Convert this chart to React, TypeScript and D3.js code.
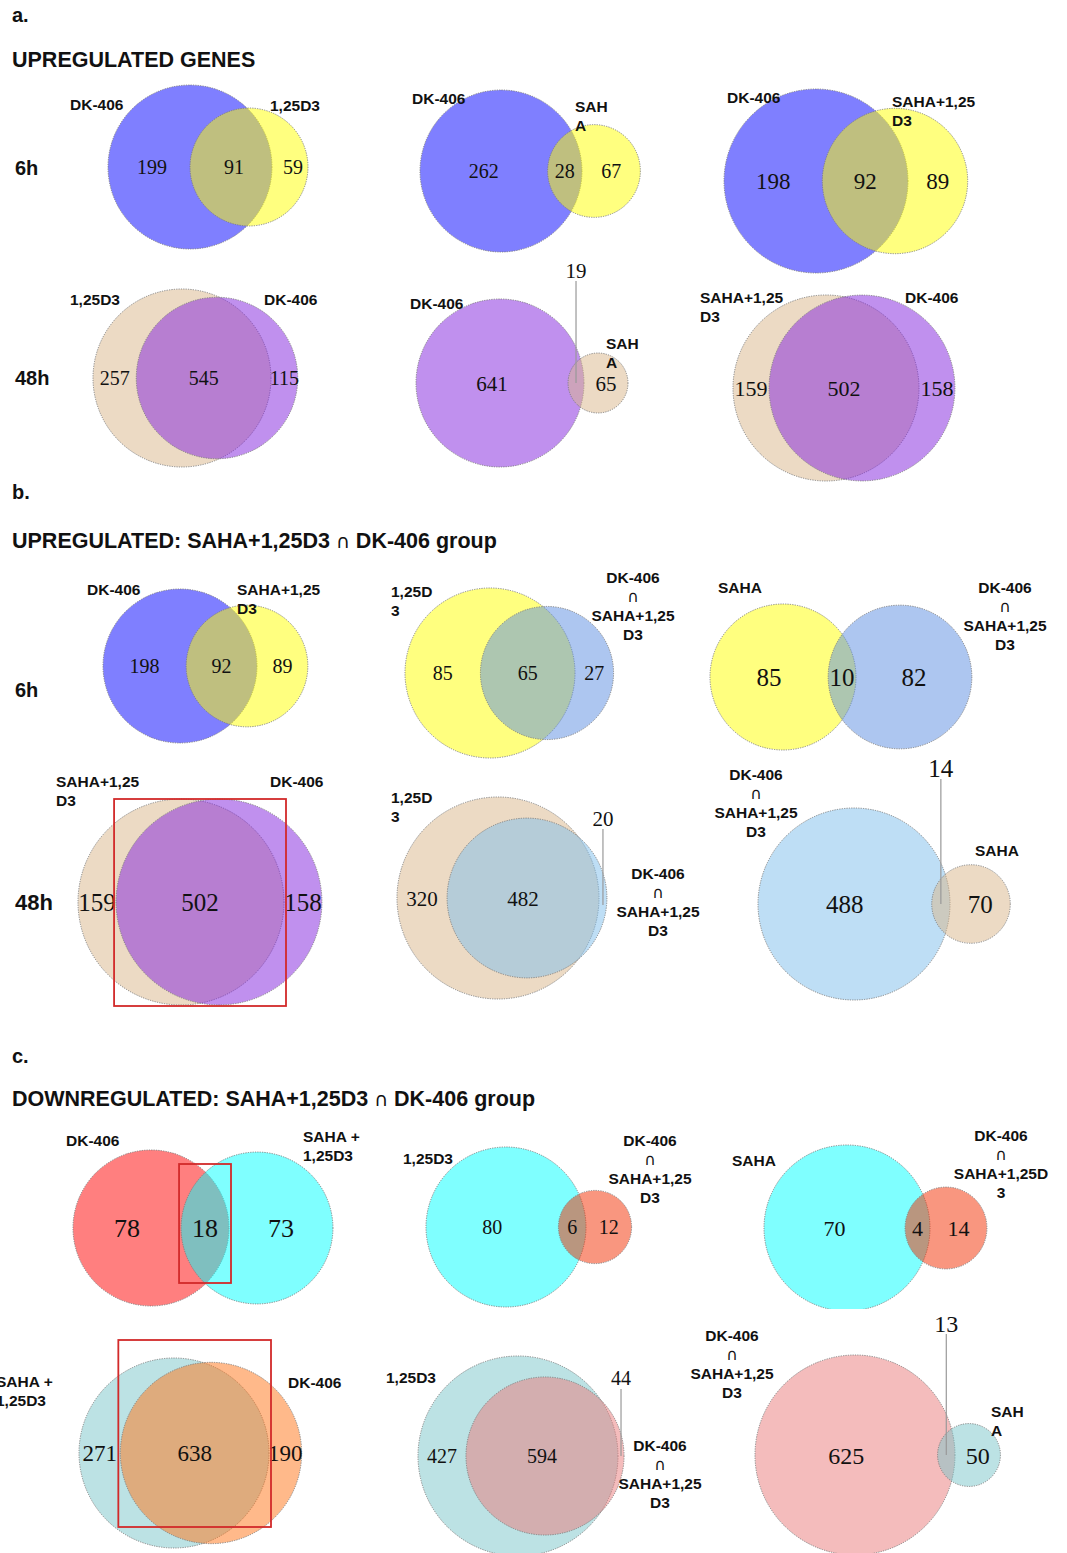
import React from "react";
import * as d3 from "d3";

// ---------- data ----------
const sectionLetters = ["a.", "b.", "c."];
const sectionTitles = [
  "UPREGULATED GENES",
  "UPREGULATED: SAHA+1,25D3 \u2229 DK-406 group",
  "DOWNREGULATED: SAHA+1,25D3 \u2229 DK-406 group",
];
const rowLabels = ["6h", "48h"];

// region counts [only A, A∩B, only B]
const upGenesCounts = [
  [199, 91, 59], [262, 28, 67], [198, 92, 89],
  [257, 545, 115], [641, 19, 65], [159, 502, 158],
];
const upGroupCounts = [
  [198, 92, 89], [85, 65, 27], [85, 10, 82],
  [159, 502, 158], [320, 482, 20], [488, 14, 70],
];
const downGroupCounts = [
  [78, 18, 73], [80, 6, 12], [70, 4, 14],
  [271, 638, 190], [427, 594, 44], [625, 13, 50],
];

const upGenesSetLabels = [
  ["DK-406", "1,25D3"], ["DK-406", "SAH\nA"], ["DK-406", "SAHA+1,25\nD3"],
  ["1,25D3", "DK-406"], ["DK-406", "SAH\nA"], ["SAHA+1,25\nD3", "DK-406"],
];
const upGroupSetLabels = [
  ["DK-406", "SAHA+1,25\nD3"], ["1,25D\n3", "DK-406\n\u2229\nSAHA+1,25\nD3"], ["SAHA", "DK-406\n\u2229\nSAHA+1,25\nD3"],
  ["SAHA+1,25\nD3", "DK-406"], ["1,25D\n3", "DK-406\n\u2229\nSAHA+1,25\nD3"], ["DK-406\n\u2229\nSAHA+1,25\nD3", "SAHA"],
];
const downGroupSetLabels = [
  ["DK-406", "SAHA +\n1,25D3"], ["1,25D3", "DK-406\n\u2229\nSAHA+1,25\nD3"], ["SAHA", "DK-406\n\u2229\nSAHA+1,25D\n3"],
  ["SAHA +\n1,25D3", "DK-406"], ["1,25D3", "DK-406\n\u2229\nSAHA+1,25\nD3"], ["DK-406\n\u2229\nSAHA+1,25\nD3", "SAH\nA"],
];

// ---------- styles ----------
const BLUE = "rgb(0,0,255)";
const YELLOW = "rgb(255,255,0)";
const PURPLE = "rgb(129,33,221)";
const TAN = "rgb(217,181,137)";
const LBLUE = "rgb(91,141,225)";
const SKY = "rgb(125,189,235)";
const RED = "rgb(255,0,0)";
const CYAN = "rgb(0,255,255)";
const ORANGE = "rgb(243,45,0)";
const TEAL = "rgb(121,197,201)";
const PEACH = "rgb(255,115,21)";
const PINK = "rgb(233,121,121)";

const panelColors = [
  [BLUE, YELLOW], [BLUE, YELLOW], [BLUE, YELLOW],
  [TAN, PURPLE], [PURPLE, TAN], [TAN, PURPLE],
  [BLUE, YELLOW], [YELLOW, LBLUE], [YELLOW, LBLUE],
  [TAN, PURPLE], [TAN, SKY], [SKY, TAN],
  [RED, CYAN], [CYAN, ORANGE], [CYAN, ORANGE],
  [TEAL, PEACH], [TEAL, PINK], [PINK, TEAL],
];

// ---------- layout ----------
type Lab = { x: number; y: number; mid?: boolean };
type Layout = {
  cxA: number; cxB: number; cy: number; r: number; fs: number;
  la: Lab; lb: Lab; nudge?: number;
  leader?: { region: number; y: number; lineEnd?: number };
  rect?: { y0: number; y1: number };
  clipBottom?: number;
};

const panelLayout: Layout[] = [
  { cxA: 190, cxB: 249, cy: 167, r: 82, fs: 20, nudge: 3, la: { x: 70, y: 104 }, lb: { x: 270, y: 105 } },
  { cxA: 501, cxB: 594, cy: 171, r: 81, fs: 20, la: { x: 412, y: 98 }, lb: { x: 575, y: 106 } },
  { cxA: 816, cxB: 895, cy: 181, r: 92, fs: 23, la: { x: 727, y: 97 }, lb: { x: 892, y: 101 } },
  { cxA: 182, cxB: 217, cy: 378, r: 89, fs: 20, la: { x: 70, y: 299 }, lb: { x: 264, y: 299 } },
  { cxA: 500, cxB: 598, cy: 383, r: 84, fs: 21, la: { x: 410, y: 303 }, lb: { x: 606, y: 343 }, leader: { region: 1, y: 270 } },
  { cxA: 826, cxB: 862, cy: 388, r: 93, fs: 22, la: { x: 700, y: 297 }, lb: { x: 905, y: 297 } },
  { cxA: 180, cxB: 247, cy: 666, r: 77, fs: 20, la: { x: 87, y: 589 }, lb: { x: 237, y: 589 } },
  { cxA: 490, cxB: 547, cy: 673, r: 85, fs: 20, la: { x: 391, y: 591 }, lb: { x: 633, y: 577, mid: true } },
  { cxA: 783, cxB: 900, cy: 677, r: 73, fs: 25, la: { x: 718, y: 587 }, lb: { x: 1005, y: 587, mid: true } },
  { cxA: 181, cxB: 219, cy: 902, r: 103, fs: 25, la: { x: 56, y: 781 }, lb: { x: 270, y: 781 }, rect: { y0: 799, y1: 1006 } },
  { cxA: 498, cxB: 527, cy: 898, r: 101, fs: 21, la: { x: 391, y: 797 }, lb: { x: 658, y: 873, mid: true }, leader: { region: 2, y: 818, lineEnd: 905 } },
  { cxA: 854, cxB: 971, cy: 904, r: 96, fs: 25, la: { x: 756, y: 774, mid: true }, lb: { x: 975, y: 850 }, leader: { region: 1, y: 768 } },
  { cxA: 151, cxB: 257, cy: 1228, r: 78, fs: 26, la: { x: 66, y: 1140 }, lb: { x: 303, y: 1136 }, rect: { y0: 1164, y1: 1283 } },
  { cxA: 506, cxB: 595, cy: 1227, r: 80, fs: 20, la: { x: 403, y: 1158 }, lb: { x: 650, y: 1140, mid: true } },
  { cxA: 847, cxB: 946, cy: 1228, r: 83, fs: 22, la: { x: 732, y: 1160 }, lb: { x: 1001, y: 1135, mid: true }, clipBottom: 1309 },
  { cxA: 174, cxB: 211, cy: 1453, r: 95, fs: 23, la: { x: -4, y: 1381 }, lb: { x: 288, y: 1382 }, rect: { y0: 1340, y1: 1527 } },
  { cxA: 518, cxB: 545, cy: 1456, r: 100, fs: 20, la: { x: 386, y: 1377 }, lb: { x: 660, y: 1445, mid: true }, leader: { region: 2, y: 1378 } },
  { cxA: 855, cxB: 969, cy: 1455, r: 100, fs: 24, la: { x: 732, y: 1335, mid: true }, lb: { x: 991, y: 1411 }, leader: { region: 1, y: 1323 } },
];

const headerLayout = [
  { letterY: 22, titleY: 67, rows: [175, 385], rowSize: [20, 20] },
  { letterY: 499, titleY: 548, rows: [697, 910], rowSize: [20, 22] },
  { letterY: 1063, titleY: 1106, rows: [], rowSize: [] },
];

const SANS = "'Liberation Sans', Arial, Helvetica, sans-serif";
const SERIF = "'Liberation Serif', 'Times New Roman', Times, serif";
const SYM = "'DejaVu Sans', sans-serif";
const CAP = "\u2229";

function withCap(s: string, size: number) {
  const parts = s.split(CAP);
  const out: React.ReactNode[] = [];
  parts.forEach((p, i) => {
    if (i > 0)
      out.push(
        <tspan key={`c${i}`} fontFamily={SYM} fontWeight="normal" fontSize={size}>
          {CAP}
        </tspan>
      );
    if (p) out.push(<tspan key={`p${i}`}>{p}</tspan>);
  });
  return out;
}

function SetLabel({ text, lab }: { text: string; lab: Lab }) {
  const lines = text.split("\n");
  return (
    <text
      fontFamily={SANS}
      fontWeight="bold"
      fontSize={15.5}
      fill="#111"
      textAnchor={lab.mid ? "middle" : "start"}
    >
      {lines.map((l, i) =>
        l === CAP ? (
          <tspan key={i} x={lab.x} y={lab.y + 5.5 + i * 19.3} fontFamily={SYM} fontWeight="normal" fontSize={16}>
            {l}
          </tspan>
        ) : (
          <tspan key={i} x={lab.x} y={lab.y + 5.5 + i * 19.3}>
            {l}
          </tspan>
        )
      )}
    </text>
  );
}

function Venn({ idx, counts, labels }: { idx: number; counts: number[]; labels: string[] }) {
  const L = panelLayout[idx];
  const [cA, cB] = panelColors[idx];
  const totA = counts[0] + counts[1];
  const totB = counts[1] + counts[2];
  const rScale = d3.scaleSqrt().domain([0, Math.max(totA, totB)]).range([0, L.r]);
  const rA = rScale(totA);
  const rB = rScale(totB);
  const leftA = L.cxA - rA, rightA = L.cxA + rA;
  const leftB = L.cxB - rB, rightB = L.cxB + rB;
  const nudge = L.nudge ?? 0;
  const xs = [(leftA + leftB) / 2 + nudge, (leftB + rightA) / 2 + nudge, (rightA + rightB) / 2 + nudge];
  const clipId = `clip${idx}`;
  const stroke = { stroke: "#7a7a7a", strokeWidth: 0.9, strokeDasharray: "1.2,1.2" };
  return (
    <g>
      {L.clipBottom !== undefined && (
        <defs>
          <clipPath id={clipId}>
            <rect x={0} y={0} width={1067} height={L.clipBottom} />
          </clipPath>
        </defs>
      )}
      <g clipPath={L.clipBottom !== undefined ? `url(#${clipId})` : undefined}>
        <ellipse cx={L.cxA} cy={L.cy} rx={rA} ry={rA} fill={cA} fillOpacity={0.5} {...stroke} />
        <ellipse cx={L.cxB} cy={L.cy} rx={rB} ry={rB} fill={cB} fillOpacity={0.5} {...stroke} />
      </g>
      {counts.map((c, i) => {
        const isLeader = L.leader && L.leader.region === i;
        if (isLeader) {
          const y = L.leader!.y;
          return (
            <g key={i}>
              <line
                x1={xs[i]} x2={xs[i]} y1={y + 11} y2={L.leader!.lineEnd ?? L.cy}
                stroke="#999" strokeWidth={1.2}
              />
              <text x={xs[i]} y={y + L.fs * 0.36} textAnchor="middle" fontFamily={SERIF} fontSize={L.fs} fill="#111">
                {c}
              </text>
            </g>
          );
        }
        return (
          <text key={i} x={xs[i]} y={L.cy + L.fs * 0.36} textAnchor="middle" fontFamily={SERIF} fontSize={L.fs} fill="#111">
            {c}
          </text>
        );
      })}
      <SetLabel text={labels[0]} lab={L.la} />
      <SetLabel text={labels[1]} lab={L.lb} />
      {L.rect && (
        <rect
          x={leftB - 2}
          y={L.rect.y0}
          width={rightA - leftB + 4}
          height={L.rect.y1 - L.rect.y0}
          fill="none"
          stroke="#d22a2a"
          strokeWidth={1.8}
        />
      )}
    </g>
  );
}

export default function App() {
  const allCounts = [...upGenesCounts, ...upGroupCounts, ...downGroupCounts];
  const allLabels = [...upGenesSetLabels, ...upGroupSetLabels, ...downGroupSetLabels];
  return (
    <svg
      width={1067}
      height={1553}
      style={{ position: "absolute", left: 0, top: 0, background: "#fff" }}
    >
      <rect x={0} y={0} width={1067} height={1553} fill="#fff" />
      {headerLayout.map((h, s) => (
        <g key={s} fontFamily={SANS} fontWeight="bold" fill="#111">
          <text x={12} y={h.letterY} fontSize={20}>{sectionLetters[s]}</text>
          <text x={12} y={h.titleY} fontSize={21.5}>{withCap(sectionTitles[s], 19)}</text>
          {h.rows.map((ry, i) => (
            <text key={i} x={15} y={ry} fontSize={h.rowSize[i]}>{rowLabels[i]}</text>
          ))}
        </g>
      ))}
      {allCounts.map((c, i) => (
        <Venn key={i} idx={i} counts={c} labels={allLabels[i]} />
      ))}
    </svg>
  );
}
